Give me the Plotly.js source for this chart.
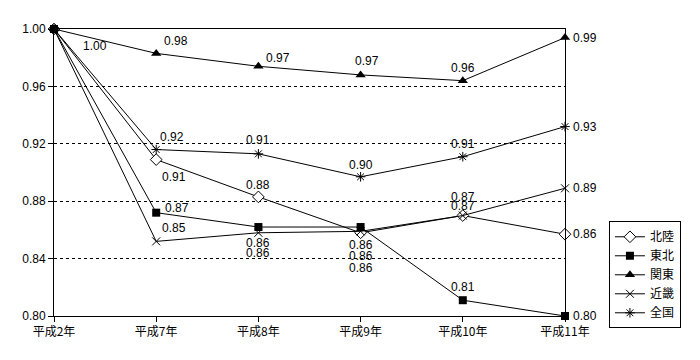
<!DOCTYPE html>
<html><head><meta charset="utf-8">
<script src="https://cdn.plot.ly/plotly-3.0.1.min.js"></script>
<style>html,body{margin:0;padding:0;background:#fff}#chart{width:700px;height:360px}</style>
</head><body><div id="chart"></div>
<script>
// ---- data ----
const categories = ['平成2年','平成7年','平成8年','平成9年','平成10年','平成11年'];
const seriesNames = ['北陸','東北','関東','近畿','全国'];
const hokuriku = [1.000, 0.909, 0.883, 0.858, 0.870, 0.857];
const tohoku   = [1.000, 0.872, 0.862, 0.862, 0.811, 0.800];
const kanto    = [1.000, 0.983, 0.974, 0.968, 0.964, 0.994];
const kinki    = [1.000, 0.852, 0.858, 0.859, 0.870, 0.889];
const zenkoku  = [1.000, 0.916, 0.913, 0.897, 0.911, 0.932];
const yTicks = [0.80, 0.84, 0.88, 0.92, 0.96, 1.00];

// ---- styles ----
const seriesValues = [hokuriku, tohoku, kanto, kinki, zenkoku];
const markerStyles = [
  {symbol:'diamond', size:9, color:'#fff', line:{width:1,color:'#000'}},
  {symbol:'square', size:8, color:'#000', line:{width:0}},
  {symbol:'triangle-up', size:9, color:'#000', line:{width:0}},
  {symbol:'x-thin-open', size:8, color:'#000', line:{width:1,color:'#000'}},
  {symbol:'asterisk-open', size:8, color:'#000', line:{width:1,color:'#000'}}
];
const drawOrder = [0, 2, 3, 4, 1]; // 東北 drawn last (on top at the common start point)
// label offsets [dx, dy(px, positive = down)] per point; null = no label, 'R' = right of point
const labelShift = [
  [null, [18,17], [0,-12], [0,12], [0,-19], 'R'],
  [null, [21,-5], [0,16], [0,29], [0,-13], 'R'],
  [[41,17], [20,-12], [20,-8], [6,-14], [0,-13], 'R'],
  [null, [18,-13], [0,20], [0,37], [0,-10], 'R'],
  [null, [16,-13], [0,-14], [0,-12], [0,-13], 'R']
];
const fontFam = 'Liberation Sans, Noto Sans CJK JP, sans-serif';
const cjkFam = 'Noto Sans CJK JP, sans-serif';

const traces = drawOrder.map(i=>({
  type:'scatter', mode:'lines+markers', name:seriesNames[i], legendrank: i+1,
  x: categories, y: seriesValues[i],
  line:{color:'#000', width:1},
  marker: markerStyles[i],
  cliponaxis:false
}));

const annotations = [];
seriesValues.forEach((vals,i)=>{
  vals.forEach((v,j)=>{
    const s = labelShift[i][j];
    if (!s) return;
    const a = {x: categories[j], y: v, xref:'x', yref:'y', text: v.toFixed(2),
      showarrow:false, font:{family:fontFam, size:12, color:'#000'}};
    if (s === 'R') { a.xanchor='left'; a.xshift=6; a.yshift=0; }
    else { a.xanchor='center'; a.xshift=s[0]; a.yshift=-s[1]; }
    annotations.push(a);
  });
});

const layout = {
  width:700, height:360,
  margin:{l:54, r:135, t:29, b:44},
  paper_bgcolor:'#fff', plot_bgcolor:'#fff',
  font:{family:fontFam, size:12, color:'#000'},
  showlegend:true,
  legend:{x:1.086, y:0.33, xanchor:'left', yanchor:'top', bordercolor:'#000', borderwidth:1,
    bgcolor:'#fff', font:{family:cjkFam, size:12, color:'#000'}, tracegroupgap:0, itemwidth:30,
    traceorder:'normal'},
  xaxis:{type:'category', range:[0,5], showline:true, mirror:true, linecolor:'#000', linewidth:1,
    ticks:'outside', ticklen:5, tickcolor:'#000', showgrid:false, zeroline:false,
    tickfont:{family:cjkFam, size:12}, fixedrange:true},
  yaxis:{range:[0.8,1.0], tickvals:yTicks, ticktext:yTicks.map(v=>v.toFixed(2)),
    showline:true, mirror:true, linecolor:'#000', linewidth:1,
    ticks:'outside', ticklen:5, tickcolor:'#000', showgrid:true, gridcolor:'#000', griddash:'dot', gridwidth:1,
    zeroline:false, tickfont:{family:fontFam, size:12}, fixedrange:true},
  annotations: annotations
};
Plotly.newPlot('chart', traces, layout, {staticPlot:true, displayModeBar:false});
</script></body></html>
